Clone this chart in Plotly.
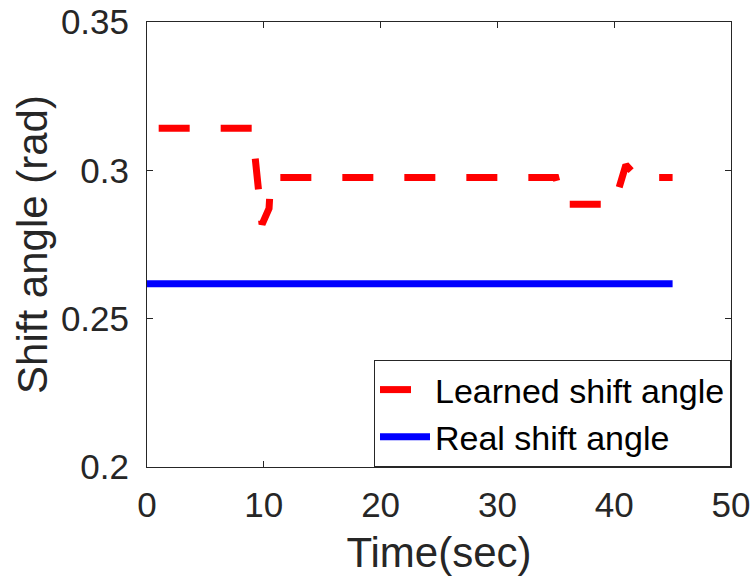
import plotly.graph_objects as go

# Data
time_learned = [1, 9.0, 9.85, 10.45, 10.6, 35.0, 35.6, 40.0, 41.0, 42.0, 45]
learned_angle = [0.3142, 0.3142, 0.2818, 0.2872, 0.2976, 0.2976, 0.2886, 0.2886, 0.3018, 0.2976, 0.2976]
time_real = [0, 45]
real_angle = [0.2618, 0.2618]

x_ticks = [0, 10, 20, 30, 40, 50]
y_ticks = [0.2, 0.25, 0.3, 0.35]
y_tick_labels = ["0.2", "0.25", "0.3", "0.35"]

AX = "#262626"
FONT = "Liberation Sans, Arial, Helvetica, sans-serif"

fig = go.Figure()
fig.add_trace(go.Scatter(
    x=time_learned, y=learned_angle, mode="lines", name="Learned shift angle",
    line=dict(color="#ff0000", width=7, dash="31px,31px"),
))
fig.add_trace(go.Scatter(
    x=time_real, y=real_angle, mode="lines", name="Real shift angle",
    line=dict(color="#0000ff", width=7),
))

fig.update_layout(
    template="none",
    width=756, height=584,
    margin=dict(l=147, r=25, t=22, b=117, autoexpand=False),
    paper_bgcolor="white", plot_bgcolor="white",
    font=dict(family=FONT, color=AX),
    showlegend=True,
    legend=dict(
        x=1, y=0, xanchor="right", yanchor="bottom",
        bgcolor="white", bordercolor=AX, borderwidth=1,
        font=dict(size=34, color="black", family=FONT),
        tracegroupgap=0, itemwidth=50,
    ),
    xaxis=dict(
        range=[0, 50], tickvals=x_ticks, ticktext=[str(v) for v in x_ticks],
        showgrid=False, zeroline=False, automargin=False,
        showline=True, linecolor=AX, linewidth=1, mirror="ticks",
        ticks="inside", ticklen=6, tickcolor=AX, tickwidth=1,
        tickfont=dict(size=35, color=AX),
        ticklabelstandoff=7,
        title=dict(text="Time(sec)", font=dict(size=42, color=AX), standoff=14),
    ),
    yaxis=dict(
        range=[0.2, 0.35], tickvals=y_ticks, ticktext=y_tick_labels,
        showgrid=False, zeroline=False, automargin=False,
        showline=True, linecolor=AX, linewidth=1, mirror="ticks",
        ticks="inside", ticklen=6, tickcolor=AX, tickwidth=1,
        tickfont=dict(size=35, color=AX),
        ticklabelstandoff=10,
        title=dict(text="Shift angle (rad)", font=dict(size=42, color=AX), standoff=0),
    ),
)

fig.write_html("out.html")
